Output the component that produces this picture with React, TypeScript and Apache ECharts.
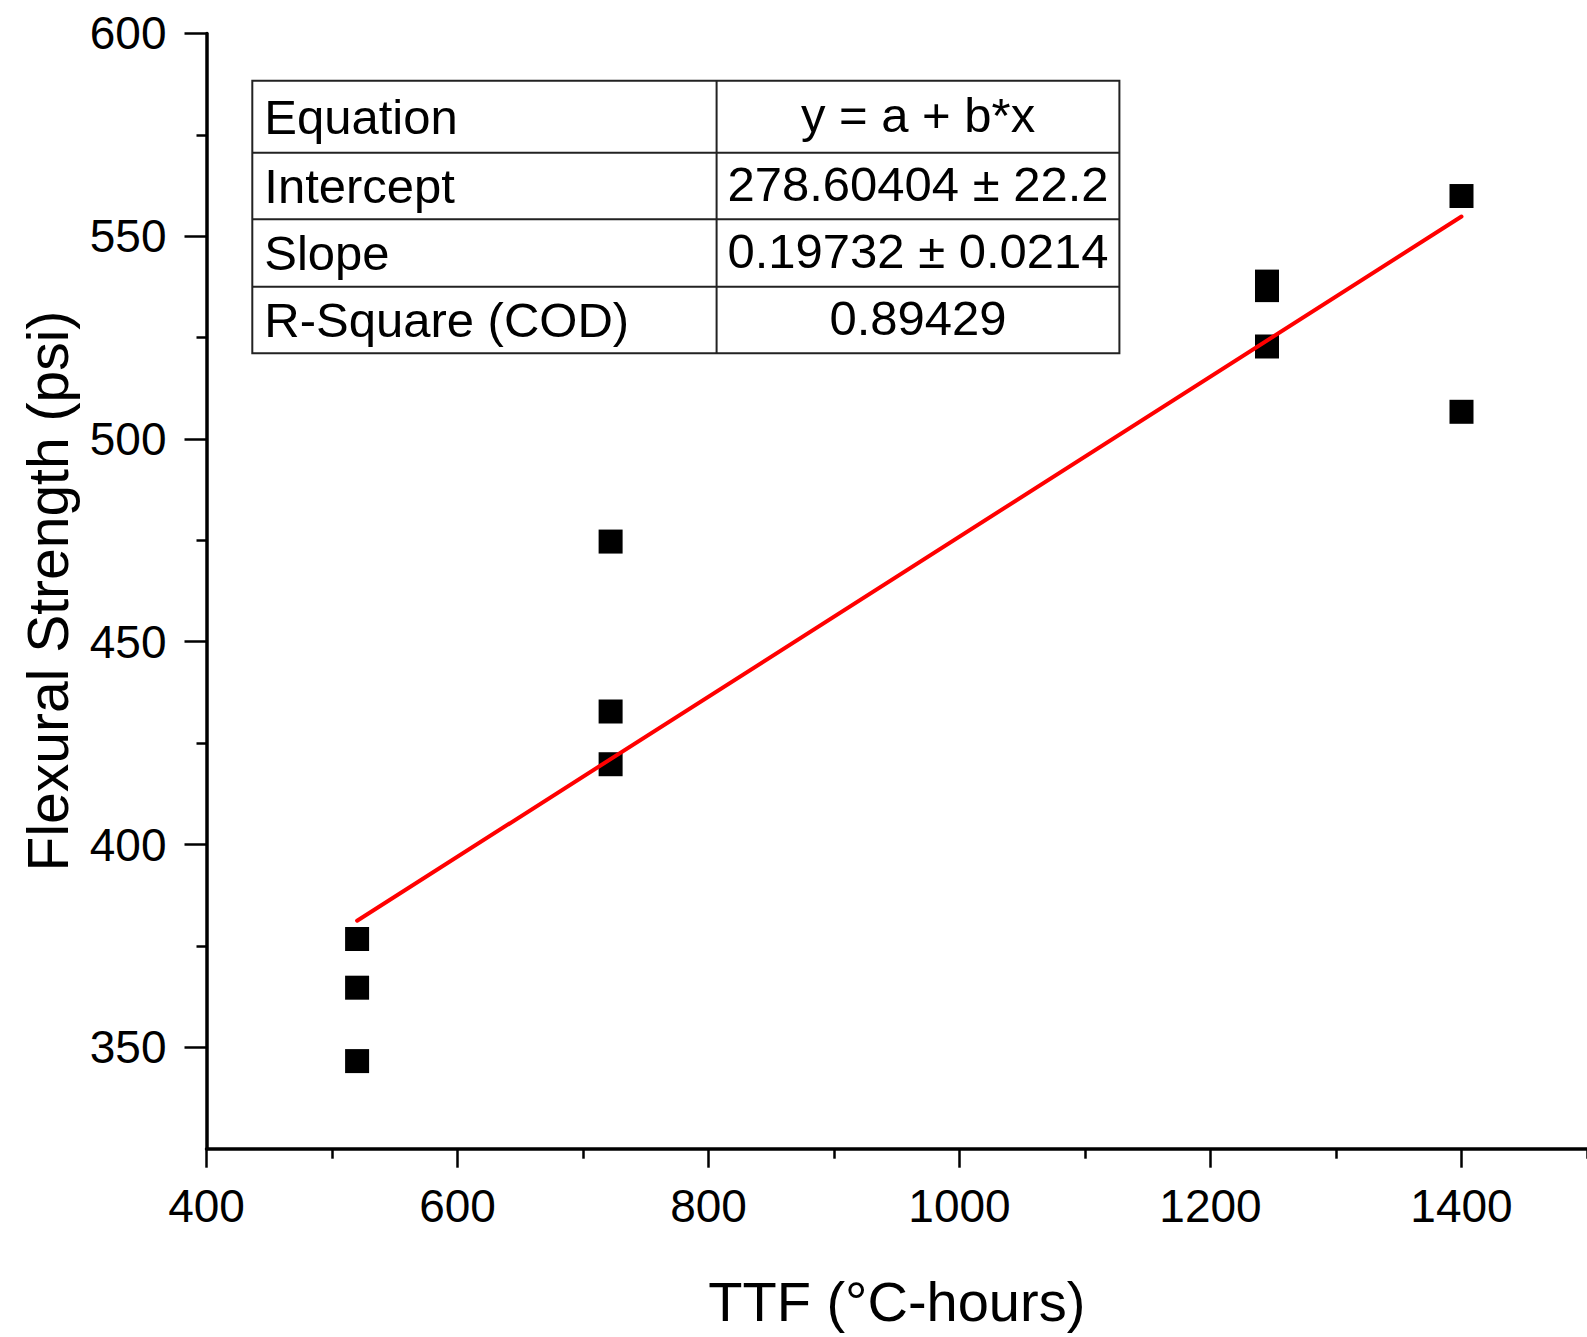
import React, { useEffect, useRef } from "react";
import * as echarts from "echarts";

// ---- data ----
const ttf = [520, 520, 520, 722, 722, 722, 1245, 1245, 1245, 1400, 1400];
const strength = [376.7, 364.7, 346.6, 474.7, 432.8, 419.8, 538.8, 536.7, 522.8, 559.9, 506.7];

const fitIntercept = 278.60404;
const fitSlope = 0.19732;
const fitXRange = [520, 1400];

const yMajorTicks = [350, 400, 450, 500, 550, 600];
const yMinorTicks = [375, 425, 475, 525, 575];
const xMajorTicks = [400, 600, 800, 1000, 1200, 1400];
const xMinorTicks = [500, 700, 900, 1100, 1300, 1500];

const tableLabels = ["Equation", "Intercept", "Slope", "R-Square (COD)"];
const tableValues = ["y = a + b*x", "278.60404 \u00b1 22.2", "0.19732 \u00b1 0.0214", "0.89429"];

const FONT = "'Liberation Sans', Arial, Helvetica, sans-serif";

export default function App() {
  const ref = useRef<HTMLDivElement>(null);
  useEffect(() => {
    if (!ref.current) return;
    const chart = echarts.init(ref.current, null, { renderer: "svg" });

    const scatterData = ttf.map((x, i) => [x, strength[i]]);
    const fitData = fitXRange.map((x) => [x, fitIntercept + fitSlope * x]);

    // table layout (annotation box)
    const tLeft = 252.3;
    const rowEdges = [80.7, 152.7, 219.3, 286.7, 353.3];
    const tRight = 1119.4;
    const tDiv = 716.6;
    const border = "#222";
    const tableEls: any[] = [];
    tableEls.push({
      type: "rect",
      shape: { x: tLeft, y: rowEdges[0], width: tRight - tLeft, height: rowEdges[4] - rowEdges[0] },
      style: { fill: "#fff", stroke: border, lineWidth: 2 },
    });
    for (let i = 1; i < 4; i++) {
      tableEls.push({
        type: "line",
        shape: { x1: tLeft, y1: rowEdges[i], x2: tRight, y2: rowEdges[i] },
        style: { stroke: border, lineWidth: 2 },
      });
    }
    tableEls.push({
      type: "line",
      shape: { x1: tDiv, y1: rowEdges[0], x2: tDiv, y2: rowEdges[4] },
      style: { stroke: border, lineWidth: 2 },
    });
    tableLabels.forEach((lab, i) => {
      const cy = (rowEdges[i] + rowEdges[i + 1]) / 2;
      tableEls.push({
        type: "text",
        x: tLeft + 12,
        y: cy,
        style: { text: lab, fill: "#000", font: `49px ${FONT}`, align: "left", verticalAlign: "middle" },
      });
      tableEls.push({
        type: "text",
        x: (tDiv + tRight) / 2,
        y: cy - 2,
        style: { text: tableValues[i], fill: "#000", font: `49px ${FONT}`, align: "center", verticalAlign: "middle" },
      });
    });

    const grid = { left: 206.5, top: 33.4, width: 1383, height: 1115.3 };
    const plain = (v: number) => String(v);

    chart.setOption({
      animation: false,
      backgroundColor: "#fff",
      textStyle: { fontFamily: FONT },
      grid,
      xAxis: [
        {
          type: "value",
          min: 400,
          max: 1500,
          position: "bottom",
          name: "TTF (\u00b0C-hours)",
          nameLocation: "middle",
          nameGap: 125,
          nameTextStyle: { fontSize: 56, color: "#000", fontFamily: FONT },
          axisLine: { show: true, lineStyle: { color: "#000", width: 3.5 } },
          axisTick: { show: true, customValues: xMajorTicks, length: 19, lineStyle: { color: "#000", width: 2.5 } },
          axisLabel: { show: true, customValues: xMajorTicks, formatter: plain, margin: 34, fontSize: 46, color: "#000", fontFamily: FONT },
          splitLine: { show: false },
        },
        {
          type: "value",
          min: 400,
          max: 1500,
          position: "bottom",
          axisLine: { show: false },
          axisTick: { show: true, customValues: xMinorTicks, length: 10, lineStyle: { color: "#000", width: 2.5 } },
          axisLabel: { show: false },
          splitLine: { show: false },
        },
      ],
      yAxis: [
        {
          type: "value",
          min: 325,
          max: 600,
          position: "left",
          name: "Flexural Strength (psi)",
          nameLocation: "middle",
          nameGap: 130,
          nameTextStyle: { fontSize: 57, color: "#000", fontFamily: FONT },
          axisLine: { show: true, lineStyle: { color: "#000", width: 3.5 } },
          axisTick: { show: true, customValues: yMajorTicks, length: 22, lineStyle: { color: "#000", width: 2.5 } },
          axisLabel: { show: true, customValues: yMajorTicks, formatter: plain, margin: 40, fontSize: 46, color: "#000", fontFamily: FONT },
          splitLine: { show: false },
        },
        {
          type: "value",
          min: 325,
          max: 600,
          position: "left",
          axisLine: { show: false },
          axisTick: { show: true, customValues: yMinorTicks, length: 10, lineStyle: { color: "#000", width: 2.5 } },
          axisLabel: { show: false },
          splitLine: { show: false },
        },
      ],
      series: [
        {
          type: "scatter",
          xAxisIndex: 0,
          yAxisIndex: 0,
          data: scatterData,
          symbol: "rect",
          symbolSize: 24,
          itemStyle: { color: "#000", opacity: 1 },
          z: 3,
        },
        {
          type: "line",
          xAxisIndex: 0,
          yAxisIndex: 0,
          data: fitData,
          showSymbol: false,
          symbol: "none",
          lineStyle: { color: "#ff0000", width: 4, cap: "round" },
          z: 4,
        },
      ],
      graphic: [{ type: "group", elements: tableEls }],
    });

    return () => chart.dispose();
  }, []);

  return (
    <div
      ref={ref}
      style={{ position: "absolute", left: 0, top: 0, width: 1587, height: 1337 }}
    />
  );
}
